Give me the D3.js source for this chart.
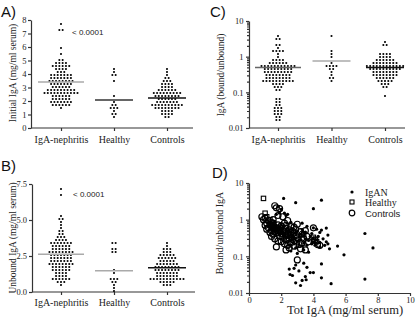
<!DOCTYPE html>
<html>
<head>
<meta charset="utf-8">
<script src="https://cdn.jsdelivr.net/npm/d3@7"></script>
<style>
  body { margin: 0; background: #fff; }
  svg { display: block; }
  .ax path, .ax line, .axl { stroke: #333; stroke-width: 1.2; }
  .ax text { font-family: "Liberation Serif", serif; font-size: 8.5px; fill: #222; }
  .cat text { font-size: 10px; }
  .ttl { font-family: "Liberation Serif", serif; font-size: 9.5px; fill: #222; }
  .lbl { font-family: "Liberation Sans", Arial, sans-serif; font-size: 15px; fill: #111; }
  .p { font-family: "Liberation Sans", Arial, sans-serif; font-size: 8px; fill: #222; }
</style>
</head>
<body>
<div id="plot_area"></div>
<script>
const w = 416;
const h = 317;

const groups = ['IgA-nephritis', 'Healthy', 'Controls'];

// IgA nephritis patients (same order in both arrays: total IgA, bound/unbound ratio)
const iganTot = [2.15,2.9,4.5,4.0,1.8,2.0,1.9,2.2,1.7,2.4,2.3,1.6,2.6,7.7,7.2,7.2,5.9,5.5,5.1,4.9,4.8,4.5,4.5,4.5,5.0,4.9,4.8,4.7,4.6,4.4,4.4,4.4,4.3,4.2,4.2,4.1,4.0,4.0,4.0,4.0,2.55,2.8,2.9,2.9,3.5,3.55,3.8,3.4,3.1,3.3,2.7,3.6,2.5,3.2,1.5,1.6,1.7,1.8,1.9,1.9,2.0,2.0,2.0,2.1,2.1,2.2,2.2,2.3,2.3,2.4,2.4,2.5,2.5,2.6,2.6,2.6,2.7,2.7,2.8,2.8,2.8,2.9,2.9,3.0,3.0,3.0,3.1,3.1,3.2,3.2,3.3,3.3,3.4,3.4,3.4,3.5,3.5,3.6,3.6,3.7,3.7,3.8,3.9,3.9,3.3];
const iganRatio = [3.8,2.9,3.4,2.0,2.3,1.9,1.5,1.5,1.4,1.4,1.3,0.9,0.85,0.17,0.42,0.024,0.11,0.19,0.018,0.38,0.59,0.52,0.062,0.026,0.16,0.22,0.25,0.2,0.3,0.45,0.18,0.24,0.35,0.28,0.55,0.2,0.6,0.32,0.036,0.25,0.032,0.047,0.058,0.019,0.028,0.023,0.036,0.065,0.04,0.022,0.03,0.05,0.045,0.016,0.75,0.6,0.7,0.5,0.65,0.4,0.78,0.55,0.3,0.62,0.45,0.36,0.68,0.5,0.25,0.42,0.58,0.33,0.2,0.47,0.27,0.14,0.38,0.56,0.22,0.31,0.72,0.44,0.17,0.26,0.48,0.12,0.34,0.21,0.4,0.29,0.19,0.54,0.23,0.37,0.15,0.3,0.46,0.2,0.66,0.27,0.13,0.35,0.22,0.42,0.8];
const iganUnbound = [7.1,6.7,5.3,5.1,5.0,4.9,4.4,4.3,4.2,4.1,4.0,3.9,3.8,3.8,3.7,3.7,3.6,3.6,3.5,3.5,3.4,3.4,3.3,3.3,3.2,3.2,3.1,3.1,3.1,3.0,3.0,2.9,2.9,2.9,2.8,2.8,2.8,2.7,2.7,2.7,2.6,2.6,2.6,2.5,2.5,2.5,2.4,2.4,2.4,2.3,2.3,2.3,2.2,2.2,2.2,2.1,2.1,2.1,2.0,2.0,2.0,1.9,1.9,1.9,1.8,1.8,1.8,1.7,1.7,1.7,1.6,1.6,1.5,1.5,1.5,1.4,1.4,1.3,1.3,1.2,1.2,1.1,1.1,1.0,1.0,0.9,0.9,0.8,0.8,0.7,0.7,0.6,0.5,3.0,2.6,2.8,3.2,2.4,2.2,1.9,3.5,4.6,2.7,1.6,2.0];

// healthy subjects
const healthyTot = [0.9,1.0,1.1,1.3,1.4,1.4,1.5,1.6,1.8,1.9,2.4,3.4,4.0,4.0,4.2,4.3];
const healthyRatio = [3.8,1.5,1.2,1.0,0.62,0.6,0.5,0.55,0.5,0.48,0.42,0.4,0.33,0.26,0.25,0.2];
const healthyUnbound = [3.5,3.3,2.9,2.9,2.7,2.7,1.6,1.3,1.0,0.9,0.9,0.7,0.6,0.5,0.3,0.1];

// disease controls
const controlTot = [0.8,0.9,1.0,1.0,1.1,1.1,1.2,1.2,1.3,1.3,1.4,1.4,1.4,1.4,1.5,1.5,1.5,1.6,1.6,1.6,1.7,1.7,1.7,1.8,1.8,1.8,1.8,1.9,1.9,1.9,1.9,2.0,2.0,2.0,2.1,2.1,2.1,2.2,2.2,2.2,2.3,2.3,2.3,2.3,2.3,2.4,2.4,2.4,2.5,2.5,2.5,2.6,2.6,2.6,2.6,2.7,2.7,2.8,2.8,2.8,2.8,2.9,2.9,3.0,3.0,3.0,3.1,3.2,3.2,3.3,3.3,3.4,3.5,3.5,3.6,3.7,4.0,4.1,4.4,1.5];
const controlRatio = [1.2,1.0,0.7,1.1,0.8,0.55,0.95,0.6,0.75,0.45,0.85,0.5,0.35,0.66,0.62,0.4,0.78,2.4,0.48,0.3,2.1,0.18,0.56,1.3,0.72,0.44,0.26,2.0,0.52,0.36,0.6,0.68,0.42,0.25,1.2,0.5,0.33,0.8,0.46,0.22,0.58,0.37,0.15,0.7,0.28,0.95,0.41,0.2,0.53,0.31,0.17,0.65,0.38,0.24,0.45,0.49,0.29,0.63,0.34,0.19,0.43,0.27,0.54,0.75,0.08,0.32,0.21,0.47,0.16,0.4,0.23,0.3,0.5,0.15,0.35,0.25,0.6,0.28,0.2,1.0];
const controlUnbound = [3.5,3.1,3.0,2.9,2.9,2.8,2.8,2.7,2.6,2.6,2.5,2.5,2.4,2.4,2.4,2.3,2.3,2.2,2.2,2.2,2.1,2.1,2.0,2.0,2.0,1.9,1.9,1.9,1.8,1.8,1.8,1.7,1.7,1.7,1.7,1.6,1.6,1.6,1.6,1.5,1.5,1.5,1.4,1.4,1.4,1.3,1.3,1.3,1.2,1.2,1.2,1.1,1.1,1.1,1.0,1.0,1.0,0.9,0.9,0.9,0.8,0.8,0.8,0.7,0.7,0.6,0.6,0.5,0.5,0.4,2.0,1.4,1.0,2.6,1.8,1.2,0.7,2.3,1.5,0.9];

// group lines as drawn in the figure
const lineA = [3.4, 2.07, 2.22];
const lineB = [2.62, 1.48, 1.69];
const lineC = [0.5, 0.76, 0.5];

const ticksA = [0, 1, 2, 3, 4, 5, 6, 7, 8];
const ticksB = [0, 2.5, 5, 7.5];
const ticksLog = [0.01, 0.1, 1, 10];
const ticksD = [0, 2, 4, 6, 8, 10];
const minorLog = [0.01, 0.1, 1].flatMap(d => d3.range(2, 10).map(k => d * k));

const svg = d3.select('#plot_area')
  .append('svg')
  .attr('width', w)
  .attr('height', h);

// rows of dots, GraphPad style
function swarm(values, y, cx) {
  const bin = 3, gap = 3.3;
  const rows = d3.group(values.map(v => y(v)), py => Math.round(py / bin));
  const out = [];
  rows.forEach((arr, k) => {
    const n = arr.length;
    arr.forEach((py, i) => out.push([cx + (i - (n - 1) / 2) * gap, k * bin]));
  });
  return out;
}

function dotPanel(o) {
  const y0 = o.y.range()[0];
  svg.append('g').attr('class', 'ax')
    .attr('transform', 'translate(' + o.left + ',0)')
    .call(d3.axisLeft(o.y).tickValues(o.ticks).tickFormat(o.fmt)
      .tickSize(3).tickPadding(o.pad).tickSizeOuter(0));
  if (o.minor) {
    svg.append('g').attr('class', 'ax')
      .attr('transform', 'translate(' + o.left + ',0)')
      .call(d3.axisLeft(o.y).tickValues(o.minor).tickSize(2).tickFormat(''))
      .select('.domain').remove();
  }
  svg.append('line').attr('class', 'axl')
    .attr('x1', o.left).attr('x2', o.right).attr('y1', y0).attr('y2', y0);
  svg.append('g').attr('class', 'ax cat')
    .attr('transform', 'translate(0,' + y0 + ')')
    .call(d3.axisBottom(o.x).tickSize(3).tickPadding(o.catPad))
    .select('.domain').remove();

  o.sets.forEach((vals, i) => {
    const cx = o.x(groups[i]);
    svg.append('g').selectAll('circle')
      .data(swarm(vals, o.y, cx))
      .join('circle')
      .attr('cx', d => d[0])
      .attr('cy', d => d[1])
      .attr('r', 1.05)
      .attr('fill', '#000');
    const half = i === 0 ? 23 : 19;
    svg.append('line')
      .attr('x1', cx - half).attr('x2', cx + half)
      .attr('y1', o.y(o.lines[i])).attr('y2', o.y(o.lines[i]))
      .attr('stroke', o.lineColors[i]).attr('stroke-width', 1.5);
  });

  svg.append('text').attr('class', 'ttl')
    .attr('transform', 'translate(' + o.tx + ',' + o.ty + ') rotate(-90)')
    .attr('text-anchor', 'middle')
    .text(o.title);
}

// A) initial IgA
const xA = d3.scalePoint().domain(groups).range([61, 167]);
const yA = d3.scaleLinear().domain([0, 8]).range([128, 20]);
dotPanel({
  x: xA, y: yA, left: 31, right: 193, ticks: ticksA, fmt: d3.format('d'), pad: 1.5, catPad: 5,
  sets: [iganTot, healthyTot, controlTot], lines: lineA, lineColors: ['#aaa', '#333', '#111'],
  title: 'Initial IgA (mg/ml serum)', tx: 15.5, ty: 73
});

// B) unbound IgA
const yB = d3.scaleLinear().domain([0, 7.5]).range([292, 184]);
dotPanel({
  x: xA, y: yB, left: 32, right: 195, ticks: ticksB, fmt: d3.format('.1f'), pad: 2, catPad: 4,
  sets: [iganUnbound, healthyUnbound, controlUnbound], lines: lineB, lineColors: ['#aaa', '#aaa', '#111'],
  title: 'Unbound IgA (mg/ml serum)', tx: 15.5, ty: 238
});

// C) bound/unbound ratio
const xC = d3.scalePoint().domain(groups).range([278, 385]);
const yC = d3.scaleLog().domain([0.01, 10]).range([128, 21]);
dotPanel({
  x: xC, y: yC, left: 249, right: 405, ticks: ticksLog, fmt: d3.format('~g'), pad: 2.5, catPad: 5,
  minor: minorLog,
  sets: [iganRatio, healthyRatio, controlRatio], lines: lineC, lineColors: ['#666', '#aaa', '#111'],
  title: 'IgA (bound/unbound)', tx: 224, ty: 75
});

// D) ratio against total IgA
const xD = d3.scaleLinear().domain([0, 10]).range([249, 410]);
const yD = d3.scaleLog().domain([0.01, 10]).range([293, 183]);

svg.append('g').attr('class', 'ax')
  .attr('transform', 'translate(249,0)')
  .call(d3.axisLeft(yD).tickValues(ticksLog).tickFormat(d3.format('~g')).tickSize(3).tickPadding(2.5).tickSizeOuter(0));
svg.append('g').attr('class', 'ax')
  .attr('transform', 'translate(249,0)')
  .call(d3.axisLeft(yD).tickValues(minorLog).tickSize(2).tickFormat(''))
  .select('.domain').remove();
svg.append('g').attr('class', 'ax')
  .attr('transform', 'translate(0,293)')
  .call(d3.axisBottom(xD).tickValues(ticksD).tickSize(3).tickPadding(0.5).tickSizeOuter(0));

svg.append('g').selectAll('circle')
  .data(d3.zip(iganTot, iganRatio))
  .join('circle')
  .attr('cx', d => xD(d[0]))
  .attr('cy', d => yD(d[1]))
  .attr('r', 1.6)
  .attr('fill', '#000');

svg.append('g').selectAll('rect')
  .data(d3.zip(healthyTot, healthyRatio))
  .join('rect')
  .attr('x', d => xD(d[0]) - 2.2)
  .attr('y', d => yD(d[1]) - 2.2)
  .attr('width', 4.4).attr('height', 4.4)
  .attr('fill', 'none').attr('stroke', '#000').attr('stroke-width', 1.1);

svg.append('g').selectAll('circle')
  .data(d3.zip(controlTot, controlRatio))
  .join('circle')
  .attr('cx', d => xD(d[0]))
  .attr('cy', d => yD(d[1]))
  .attr('r', 3)
  .attr('fill', 'none').attr('stroke', '#000').attr('stroke-width', 1.2);

svg.append('text').attr('class', 'ttl')
  .attr('transform', 'translate(223,233) rotate(-90)')
  .attr('text-anchor', 'middle')
  .style('font-size', '10px')
  .text('Bound/unbound IgA');
svg.append('text').attr('class', 'ttl')
  .attr('x', 345).attr('y', 314)
  .attr('text-anchor', 'middle')
  .style('font-size', '12.5px')
  .text('Tot IgA (mg/ml serum)');

// legend
const legend = svg.append('g').attr('transform', 'translate(352,0)');
legend.append('circle').attr('cx', 0).attr('cy', 192).attr('r', 1.6).attr('fill', '#000');
legend.append('rect').attr('x', -2).attr('y', 200).attr('width', 4).attr('height', 4)
  .attr('fill', 'none').attr('stroke', '#000').attr('stroke-width', 1.1);
legend.append('circle').attr('cx', 0).attr('cy', 213).attr('r', 2.8)
  .attr('fill', 'none').attr('stroke', '#000').attr('stroke-width', 1.2);
legend.append('text').attr('class', 'ttl').attr('x', 13).attr('y', 196).style('font-size', '10px').text('IgAN');
legend.append('text').attr('class', 'ttl').attr('x', 13).attr('y', 206).style('font-size', '10px').text('Healthy');
legend.append('text').attr('class', 'p').attr('x', 13).attr('y', 217).style('font-size', '9.5px').text('Controls');

// p values and panel letters
svg.append('text').attr('class', 'p').attr('x', 72).attr('y', 35).text('< 0.0001');
svg.append('text').attr('class', 'p').attr('x', 73).attr('y', 197).text('< 0.0001');
svg.append('text').attr('class', 'lbl').attr('x', 1).attr('y', 17).text('A)');
svg.append('text').attr('class', 'lbl').attr('x', 1).attr('y', 171).text('B)');
svg.append('text').attr('class', 'lbl').attr('x', 210).attr('y', 17).text('C)');
svg.append('text').attr('class', 'lbl').attr('x', 212).attr('y', 178).text('D)');
</script>
</body>
</html>
